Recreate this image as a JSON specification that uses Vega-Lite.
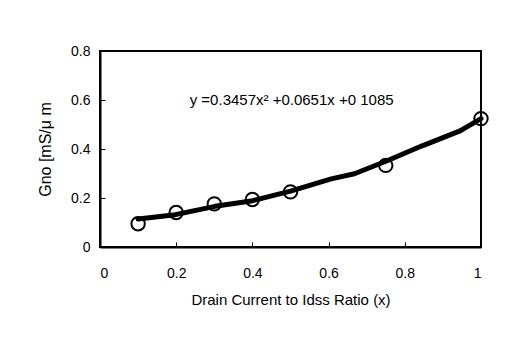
{
  "$schema": "https://vega.github.io/schema/vega-lite/v6.json",
  "width": 381,
  "height": 196,
  "autosize": "none",
  "padding": {"left": 100, "top": 51, "right": 28, "bottom": 114},
  "background": "white",
  "config": {
    "font": "Liberation Sans",
    "view": {"stroke": "black", "strokeWidth": 2},
    "axis": {
      "domainColor": "black", "domainWidth": 2, "tickColor": "black", "tickSize": -5, "tickWidth": 1,
      "labelColor": "black", "titleColor": "black", "labelFont": "Liberation Sans", "titleFont": "Liberation Sans",
      "labelFontSize": 14, "titleFontSize": 15, "titleFontWeight": "normal", "grid": false
    }
  },
  "datasets": {
    "pts": [
      {"x": 0.1, "y": 0.095},
      {"x": 0.2, "y": 0.141},
      {"x": 0.3, "y": 0.176},
      {"x": 0.4, "y": 0.194},
      {"x": 0.5, "y": 0.225},
      {"x": 0.75, "y": 0.333},
      {"x": 1.0, "y": 0.524}
    ],
    "fit": [
      {"x": 0.1, "y": 0.114},
      {"x": 0.198, "y": 0.132},
      {"x": 0.302, "y": 0.166},
      {"x": 0.401, "y": 0.189},
      {"x": 0.5, "y": 0.228},
      {"x": 0.607, "y": 0.278},
      {"x": 0.668, "y": 0.299},
      {"x": 0.752, "y": 0.351},
      {"x": 0.844, "y": 0.412},
      {"x": 0.945, "y": 0.474},
      {"x": 1.0, "y": 0.524}
    ],
    "eq": [{"x": 0.503, "y": 0.6, "t": "y =0.3457x² +0.0651x +0 1085"}]
  },
  "layer": [
    {
      "data": {"name": "pts"},
      "mark": {"type": "point", "shape": "circle", "filled": false, "stroke": "black", "strokeWidth": 2, "size": 180, "opacity": 1},
      "encoding": {
        "x": {"field": "x", "type": "quantitative", "scale": {"domain": [0, 1]},
              "axis": {"values": [0, 0.2, 0.4, 0.6, 0.8, 1], "format": ".1~f", "title": "Drain Current to Idss Ratio (x)", "labelPadding": 24, "titlePadding": 12}},
        "y": {"field": "y", "type": "quantitative", "scale": {"domain": [0, 0.8]},
              "axis": {"values": [0, 0.2, 0.4, 0.6, 0.8], "format": ".1~f", "title": "Gno [mS/μ m", "titleFontSize": 16, "labelPadding": 15, "titlePadding": 17}}
      }
    },
    {
      "data": {"name": "fit"},
      "mark": {"type": "line", "color": "black", "strokeWidth": 5, "strokeCap": "round", "strokeJoin": "round"},
      "encoding": {
        "x": {"field": "x", "type": "quantitative"},
        "y": {"field": "y", "type": "quantitative"}
      }
    },
    {
      "data": {"name": "eq"},
      "mark": {"type": "text", "fontSize": 15, "color": "black", "font": "Liberation Sans"},
      "encoding": {
        "x": {"field": "x", "type": "quantitative"},
        "y": {"field": "y", "type": "quantitative"},
        "text": {"field": "t"}
      }
    }
  ]
}
